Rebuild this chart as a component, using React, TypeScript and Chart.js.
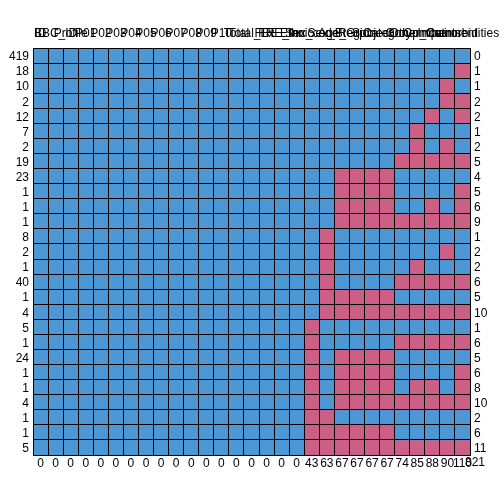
import React, { useEffect, useRef } from "react";
import { Chart, registerables } from "chart.js";

Chart.register(...registerables);

// Variable names (top axis)
const columnNames = [
  "ID", "BBC_ID", "Profile", "P01", "P02", "P03", "P04", "P05", "P06", "P07",
  "P08", "P09", "P10", "Total", "Total_Ex", "FRE", "FRE_Inc", "Ethnic",
  "Sex_code", "Sex_Bt", "Age_Grp", "Region", "Subject", "Category", "Group",
  "Other_Cat", "Comments", "Impairment", "Comorbidities",
];

// Missing values per variable (bottom axis)
const columnMissing = [
  0, 0, 0, 0, 0, 0, 0, 0, 0, 0, 0, 0, 0, 0, 0, 0, 0, 0,
  43, 63, 67, 67, 67, 67, 74, 85, 88, 90, 110,
];

// Number of cases per pattern (left axis)
const rowCounts = [
  419, 18, 10, 2, 12, 7, 2, 19, 23, 1, 1, 1, 8, 2, 1, 40, 1, 4, 5, 1, 24, 1, 1, 4, 1, 1, 5,
];

// Number of missing variables per pattern (right axis)
const rowMissing = [
  0, 1, 1, 2, 2, 1, 2, 5, 4, 5, 6, 9, 1, 2, 2, 6, 5, 10, 1, 6, 5, 6, 8, 10, 2, 6, 11,
];

const totalMissing = 821;

// Missingness pattern per row: 1 = missing, 0 = observed (one char per variable)
const rowPatterns = [
  "00000000000000000000000000000",
  "00000000000000000000000000001",
  "00000000000000000000000000010",
  "00000000000000000000000000011",
  "00000000000000000000000000101",
  "00000000000000000000000001000",
  "00000000000000000000000001010",
  "00000000000000000000000011111",
  "00000000000000000000111100000",
  "00000000000000000000111100001",
  "00000000000000000000111100101",
  "00000000000000000000111111111",
  "00000000000000000001000000000",
  "00000000000000000001000000010",
  "00000000000000000001000001000",
  "00000000000000000001000011111",
  "00000000000000000001111100000",
  "00000000000000000001111111111",
  "00000000000000000010000000000",
  "00000000000000000010000011111",
  "00000000000000000010111100000",
  "00000000000000000010111100001",
  "00000000000000000010111101101",
  "00000000000000000010111111111",
  "00000000000000000011000000000",
  "00000000000000000011111100000",
  "00000000000000000011111111111",
];

const BLUE = "rgb(77,152,212)";
const PINK = "rgb(204,95,133)";
const FONT = { family: "'Liberation Sans', Arial, Helvetica, sans-serif", size: 12 };

export default function App() {
  const canvasRef = useRef<HTMLCanvasElement | null>(null);

  useEffect(() => {
    if (!canvasRef.current) return;
    const nRows = rowCounts.length;

    const datasets = rowPatterns.map((pattern, i) => ({
      label: String(rowCounts[i]),
      data: columnNames.map(() => [i, i + 1]),
      backgroundColor: columnNames.map((_, j) => (pattern[j] === "1" ? PINK : BLUE)),
      borderWidth: 0,
      barPercentage: 1,
      categoryPercentage: 1,
      grouped: false,
    }));

    const rowTicks = (scale: any) => {
      const t = [];
      for (let i = 0; i <= nRows; i++) t.push({ value: i });
      scale.ticks = t;
    };

    const totalPlugin = {
      id: "totalLabel",
      afterDraw(chart: any) {
        const { ctx, chartArea } = chart;
        ctx.save();
        ctx.font = `${FONT.size}px ${FONT.family}`;
        ctx.fillStyle = "#000";
        ctx.textAlign = "left";
        ctx.textBaseline = "middle";
        ctx.fillText(String(totalMissing), chartArea.right - 5, chartArea.bottom + 8);
        ctx.restore();
      },
    };

    const chart = new Chart(canvasRef.current, {
      type: "bar",
      data: {
        labels: columnMissing.map(String),
        datasets: datasets as any,
      },
      plugins: [totalPlugin],
      options: {
        animation: false,
        responsive: true,
        maintainAspectRatio: false,
        layout: { padding: 0 },
        plugins: { legend: { display: false }, tooltip: { enabled: false } },
        scales: {
          x: {
            type: "category",
            position: "bottom",
            offset: true,
            grid: { offset: true, color: "#000", lineWidth: 1, drawTicks: false, z: 1 },
            border: { display: true, color: "#000", z: 1 },
            ticks: { autoSkip: false, maxRotation: 0, minRotation: 0, padding: 1, color: "#000", font: FONT },
            afterFit: (s: any) => {
              s.height = 49;
              s.paddingLeft = 0;
              s.paddingRight = 0;
            },
          },
          x2: {
            type: "category",
            position: "top",
            labels: columnNames,
            offset: true,
            grid: { display: false, drawTicks: false },
            border: { display: true, color: "#000", z: 1 },
            ticks: { autoSkip: false, maxRotation: 0, minRotation: 0, padding: 7, color: "#000", font: FONT },
            afterFit: (s: any) => {
              s.height = 48;
              s.paddingLeft = 0;
              s.paddingRight = 0;
            },
          },
          y: {
            type: "linear",
            position: "left",
            min: 0,
            max: nRows,
            reverse: true,
            afterBuildTicks: rowTicks,
            grid: { color: "#000", lineWidth: 1, drawTicks: false, z: 1 },
            border: { display: true, color: "#000", z: 1 },
            ticks: {
              autoSkip: false,
              padding: 4,
              labelOffset: 9,
              color: "#000",
              font: FONT,
              callback: (_v: any, i: number) => (i < nRows ? String(rowCounts[i]) : ""),
            },
            afterFit: (s: any) => {
              s.width = 33;
              s.paddingTop = 0;
              s.paddingBottom = 0;
            },
          },
          y2: {
            type: "linear",
            position: "right",
            min: 0,
            max: nRows,
            reverse: true,
            afterBuildTicks: rowTicks,
            grid: { display: false, drawTicks: false },
            border: { display: true, color: "#000", z: 1 },
            ticks: {
              autoSkip: false,
              padding: 4,
              labelOffset: 9,
              color: "#000",
              font: FONT,
              callback: (_v: any, i: number) => (i < nRows ? String(rowMissing[i]) : ""),
            },
            afterFit: (s: any) => {
              s.width = 34;
              s.paddingTop = 0;
              s.paddingBottom = 0;
            },
          },
        },
      } as any,
    });

    return () => chart.destroy();
  }, []);

  return (
    <div style={{ position: "fixed", left: 0, top: 0, width: 504, height: 504, background: "#fff" }}>
      <canvas ref={canvasRef} />
    </div>
  );
}
